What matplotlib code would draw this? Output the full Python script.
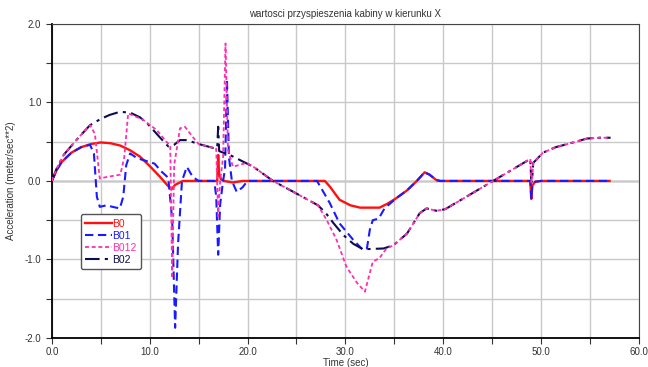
import numpy as np
import matplotlib.pyplot as plt

plt.rcParams['font.family'] = ['Liberation Sans', 'DejaVu Sans']

# B0
t_b0 = [0, 0.5, 1, 2, 3, 4, 5, 6, 7, 8, 9, 10, 11, 12.2, 12.6, 13.4, 16.9, 17.0, 17.1, 17.3, 17.6,
        18.5, 19.5, 27.9, 28.4, 29.4, 30.5, 31.5, 32.5, 33.5, 34.3, 35.2, 36.3, 37.3, 38.1, 38.6,
        39.3, 39.7, 48.9, 49.0, 49.1, 49.4, 50.0, 57.0]
a_b0 = [0, 0.14, 0.24, 0.36, 0.43, 0.47, 0.49, 0.48, 0.45, 0.39, 0.31, 0.19, 0.06, -0.11, -0.05,
        0.0, 0.0, 0.33, 0.08, 0.02, 0.0, -0.02, 0.0, 0.0, -0.07, -0.24, -0.31, -0.34, -0.34, -0.34,
        -0.29, -0.22, -0.12, 0.0, 0.11, 0.08, 0.01, 0.0, 0.0, -0.23, -0.06, -0.01, 0.0, 0.0]

# B01
t_b01 = [0, 0.5, 1, 2, 3, 3.9, 4.3, 4.6, 4.9, 5.6, 6.2, 6.95, 7.3, 7.6, 8.0, 8.7, 9.5, 10.5, 11.2,
         11.9, 12.3, 12.6, 12.9, 13.3, 13.8, 14.4, 15.0, 16.6, 16.8, 17.0, 17.2, 17.5, 17.7, 17.9,
         18.1, 18.4, 18.9, 19.5, 20.0, 27.1, 28.4, 29.4, 30.8, 31.8, 32.2, 32.5, 32.8, 33.4, 34.0,
         35.2, 36.3, 37.3, 38.1, 38.6, 39.3, 39.7, 48.9, 49.0, 49.1, 49.4, 50.0, 57.0]
a_b01 = [0, 0.14, 0.24, 0.36, 0.43, 0.46, 0.35, -0.2, -0.33, -0.31, -0.33, -0.35, -0.2, 0.2, 0.35,
         0.29, 0.26, 0.22, 0.12, 0.04, -0.5, -1.87, -0.8, 0.0, 0.18, 0.05, 0.0, 0.0, -0.2, -0.94,
         -0.3, 0.0, 0.15, 1.29, 0.3, 0.0, -0.14, -0.08, 0.0, 0.0, -0.28, -0.54, -0.75, -0.88, -0.86,
         -0.62, -0.5, -0.48, -0.35, -0.22, -0.12, 0.0, 0.11, 0.08, 0.01, 0.0, 0.0, -0.23, -0.06,
         -0.01, 0.0, 0.0]

# B012
t_b012 = [0, 0.5, 1.2, 2.5, 3.9, 4.4, 4.9, 5.6, 7.0, 7.4, 7.8, 9.3, 10.7, 11.7, 12.1, 12.3, 12.5,
          13.1, 13.6, 14.4, 15.0, 16.5, 16.8, 17.0, 17.2, 17.5, 17.75, 18.0, 18.5, 19.9, 20.6, 22.6,
          24.7, 27.2, 28.1, 29.1, 30.1, 31.2, 32.0, 32.5, 32.8, 33.5, 34.2, 34.9, 36.3, 37.6, 38.3,
          39.3, 40.2, 45.1, 48.9, 49.0, 49.1, 49.2, 50.2, 51.5, 53.0, 54.7, 56.0, 57.1]
a_b012 = [0, 0.16, 0.33, 0.52, 0.71, 0.6, 0.03, 0.05, 0.08, 0.3, 0.86, 0.78, 0.65, 0.5, 0.45, -1.24,
          0.2, 0.67, 0.69, 0.56, 0.47, 0.42, 0.41, -0.45, 0.0, 0.3, 1.75, 0.4, 0.18, 0.23, 0.18, 0.0,
          -0.14, -0.31, -0.5, -0.75, -1.09, -1.3, -1.41, -1.17, -1.03, -0.98, -0.86, -0.82, -0.67,
          -0.41, -0.35, -0.38, -0.36, 0.0, 0.28, -0.02, 0.05, 0.23, 0.36, 0.43, 0.48, 0.54, 0.55, 0.55]

# B02
t_b02 = [0, 0.5, 1.2, 2.5, 3.9, 5.0, 5.9, 6.95, 8.0, 9.0, 9.7, 11.0, 11.9, 12.5, 13.1, 13.8, 15.0,
         16.5, 16.9, 17.0, 17.1, 17.3, 18.2, 20.6, 22.6, 24.7, 27.2, 28.0, 28.8, 29.8, 30.8, 31.8,
         33.9, 34.9, 36.3, 37.6, 38.3, 39.3, 40.2, 45.1, 48.9, 49.0, 49.1, 49.2, 50.2, 51.5, 53.0,
         54.7, 56.0, 57.1]
a_b02 = [0, 0.16, 0.33, 0.52, 0.71, 0.79, 0.84, 0.88, 0.87, 0.81, 0.74, 0.56, 0.44, 0.46, 0.52,
         0.52, 0.47, 0.42, 0.42, 0.69, 0.38, 0.37, 0.33, 0.18, 0.0, -0.14, -0.31, -0.41, -0.54,
         -0.69, -0.8, -0.87, -0.86, -0.82, -0.67, -0.41, -0.35, -0.38, -0.36, 0.0, 0.28, -0.02,
         0.05, 0.23, 0.36, 0.43, 0.48, 0.54, 0.55, 0.55]

xticks = np.arange(0, 61, 5)
xticklabels = ["%.1f" % v if v % 10 == 0 else "" for v in xticks]
yticks = np.arange(-2.0, 2.01, 0.5)
yticklabels = ["%.1f" % v if v % 1 == 0 else "" for v in yticks]

fig = plt.figure(figsize=(6.48, 3.67), dpi=100, facecolor="white")
ax = fig.add_axes([0.080, 0.079, 0.906, 0.856])

ax.grid(True, color="#c8c8c8", linewidth=1.0, zorder=0)
ax.axhline(0, color="#606060", linewidth=1.0, zorder=1)

l0, = ax.plot(t_b0, a_b0, color="#ff1010", linewidth=1.7, label="B0", zorder=2)
l1, = ax.plot(t_b01, a_b01, color="#1a1aff", linewidth=1.5, dashes=(4, 2.2), label="B01", zorder=3)
l3, = ax.plot(t_b02, a_b02, color="#0c0c50", linewidth=1.5, dashes=(7, 2.5, 1.5, 2.5), label="B02", zorder=3)
l2, = ax.plot(t_b012, a_b012, color="#ff2fb0", linewidth=1.3, dashes=(2.2, 1.5), label="B012", zorder=4)

ax.set_xlim(0, 60)
ax.set_ylim(-2.0, 2.0)
ax.set_xticks(xticks)
ax.set_xticklabels(xticklabels)
ax.set_yticks(yticks)
ax.set_yticklabels(yticklabels)
ax.tick_params(direction="out", length=4, width=0.8, labelsize=7, colors="#333333")
ax.tick_params(axis="x", pad=2.5)

for s in ["left", "bottom"]:
    ax.spines[s].set_color("black")
    ax.spines[s].set_linewidth(1.3)
for s in ["top", "right"]:
    ax.spines[s].set_color("#444444")
    ax.spines[s].set_linewidth(0.8)

ax.set_title("wartosci przyspieszenia kabiny w kierunku X", fontsize=7, color="#333333", pad=5)
ax.set_xlabel("Time (sec)", fontsize=7, color="#333333")
ax.xaxis.set_label_coords(0.5, -0.064)
ax.set_ylabel("Acceleration (meter/sec**2)", fontsize=7, color="#333333", labelpad=6)

leg = ax.legend(handles=[l0, l1, l2, l3], loc="upper left", bbox_to_anchor=(0.041, 0.41),
                fontsize=7.5, handlelength=2.6, handletextpad=0.0, labelspacing=0.2,
                borderpad=0.4, labelcolor="linecolor", fancybox=True, framealpha=1)
leg.get_frame().set_edgecolor("#555555")
leg.get_frame().set_linewidth(1.0)

plt.savefig("out.png", dpi=100)
